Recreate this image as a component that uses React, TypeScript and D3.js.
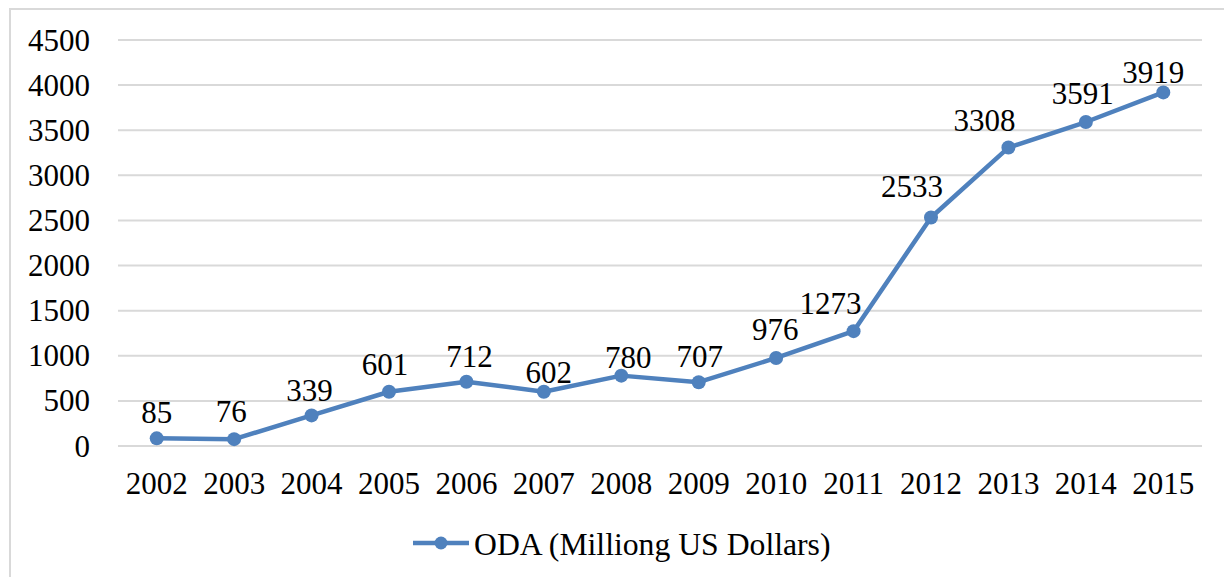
import React from "react";
import * as d3 from "d3";

const years = ["2002","2003","2004","2005","2006","2007","2008","2009","2010","2011","2012","2013","2014","2015"];
const oda = [85, 76, 339, 601, 712, 602, 780, 707, 976, 1273, 2533, 3308, 3591, 3919];
const yTicks = [0, 500, 1000, 1500, 2000, 2500, 3000, 3500, 4000, 4500];
const seriesName = "ODA (Milliong US Dollars)";
// label nudges (layout only): horizontal shift and gap above point
const labelDx = [0, -3, -2, -4, 3, 5, 7, 1, -1, -23, -19, -24, -3, -10];
const labelGap = [15, 17, 14, 17, 15, 9, 8, 15, 18, 17, 20, 17, 18, 9];

const W = 1224, H = 577;
const left = 118, right = 1202, top = 40, bottom = 446;
const color = "#4F81BD";
const serif = '"Liberation Serif", "Times New Roman", serif';
const textStyle: React.CSSProperties = { fontFamily: serif, fontSize: "31px" };
const legendStyle: React.CSSProperties = { fontFamily: serif, fontSize: "31.7px" };

export default function App() {
  const x = d3.scaleBand().domain(years).range([left, right]);
  const y = d3.scaleLinear().domain([0, 4500]).range([bottom, top]);
  const cx = (i: number) => (x(years[i]) as number) + x.bandwidth() / 2;
  const line = d3.line<number>().x((_, i) => cx(i)).y((d) => y(d));

  return (
    <svg width={W} height={H} style={{ position: "absolute", left: 0, top: 0, background: "#fff" }}>
      <rect x={0} y={0} width={W} height={H} fill="#fff" />
      <path d={`M10,${H} L10,9 L${W},9`} fill="none" stroke="#D9D9D9" strokeWidth={2} />
      {yTicks.map((t) => (
        <g key={t}>
          <line x1={left} x2={right} y1={y(t)} y2={y(t)} stroke="#D9D9D9" strokeWidth={2} />
          <text x={90} y={y(t)} dy="0.34em" textAnchor="end" style={textStyle} fill="#000">{t}</text>
        </g>
      ))}
      {years.map((yr, i) => (
        <text key={yr} x={cx(i)} y={494} textAnchor="middle" style={textStyle} fill="#000">{yr}</text>
      ))}
      <path d={line(oda) || ""} fill="none" stroke={color} strokeWidth={4.5} strokeLinejoin="round" />
      {oda.map((v, i) => (
        <circle key={i} cx={cx(i)} cy={y(v)} r={7} fill={color} />
      ))}
      {oda.map((v, i) => (
        <text key={"l" + i} x={cx(i) + labelDx[i]} y={y(v) - labelGap[i]} textAnchor="middle" style={textStyle} fill="#000">{v}</text>
      ))}
      <line x1={413} x2={469} y1={543} y2={543} stroke={color} strokeWidth={4.5} />
      <circle cx={441} cy={543} r={6.5} fill={color} />
      <text x={474} y={555} style={legendStyle} fill="#000">{seriesName}</text>
    </svg>
  );
}
